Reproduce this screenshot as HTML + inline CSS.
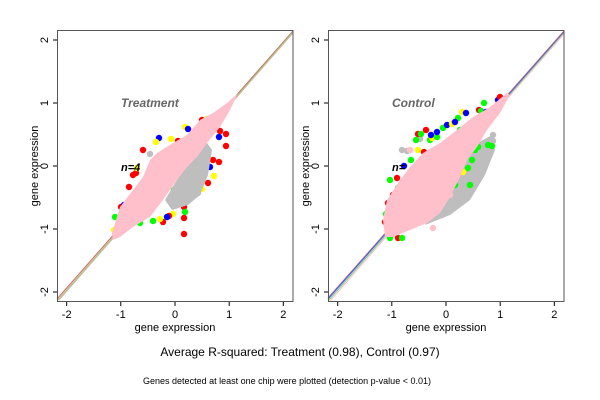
<!DOCTYPE html>
<html><head><meta charset="utf-8"><style>
html,body{margin:0;padding:0;background:#fff;}
svg{display:block;font-family:"Liberation Sans",sans-serif;}
</style></head><body>
<svg width="600" height="400" viewBox="0 0 600 400" xmlns="http://www.w3.org/2000/svg">
<rect width="600" height="400" fill="#fff"/>
<!-- LEFT PANEL -->
<g>
<line x1="57" y1="299" x2="293" y2="31" stroke="#e06060" stroke-width="1"/>
<line x1="58" y1="300" x2="293" y2="32" stroke="#7ad07a" stroke-width="1"/>
<line x1="59" y1="300" x2="293" y2="33" stroke="#d8b8a0" stroke-width="1"/>
<g>
<circle cx="159" cy="138" r="3.2" fill="#0000ff"/><circle cx="156" cy="142" r="3.2" fill="#ffff00"/><circle cx="171" cy="139" r="3.2" fill="#ffff00"/><circle cx="178" cy="141" r="3.2" fill="#ff0000"/><circle cx="176" cy="146" r="3.2" fill="#00ff00"/>
<circle cx="185" cy="127" r="3.2" fill="#ffff00"/><circle cx="188" cy="129" r="3.2" fill="#0000ff"/><circle cx="196" cy="134" r="3.2" fill="#ff0000"/><circle cx="202" cy="120" r="3.2" fill="#ff0000"/><circle cx="207" cy="119" r="3.2" fill="#ffff00"/>
<circle cx="213" cy="126" r="3.2" fill="#00ff00"/><circle cx="220" cy="131" r="3.2" fill="#ff0000"/><circle cx="219" cy="137" r="3.2" fill="#0000ff"/><circle cx="226" cy="134" r="3.2" fill="#ff0000"/><circle cx="226" cy="146" r="3.2" fill="#ff0000"/>
<circle cx="213" cy="160" r="3.2" fill="#ff0000"/><circle cx="219" cy="162" r="3.2" fill="#ff0000"/><circle cx="207" cy="157" r="3.2" fill="#00ff00"/><circle cx="214" cy="176" r="3.2" fill="#ffff00"/><circle cx="208" cy="183" r="3.2" fill="#ff0000"/>
<circle cx="202" cy="189" r="3.2" fill="#ffff00"/><circle cx="199" cy="181" r="3.2" fill="#00ff00"/><circle cx="191" cy="184" r="3.2" fill="#ff0000"/><circle cx="191" cy="188" r="3.2" fill="#ff0000"/><circle cx="185" cy="190" r="3.2" fill="#00ff00"/>
<circle cx="180" cy="199" r="3.2" fill="#ff0000"/><circle cx="175" cy="200" r="3.2" fill="#00ff00"/><circle cx="184" cy="207" r="3.2" fill="#ff0000"/><circle cx="185" cy="212" r="3.2" fill="#00ff00"/><circle cx="184" cy="218" r="3.2" fill="#ff0000"/>
<circle cx="173" cy="214" r="3.2" fill="#ffff00"/><circle cx="169" cy="216" r="3.2" fill="#ff0000"/><circle cx="163" cy="222" r="3.2" fill="#ff0000"/><circle cx="167" cy="217" r="3.2" fill="#0000ff"/><circle cx="160" cy="219" r="3.2" fill="#ffff00"/>
<circle cx="184" cy="234" r="3.2" fill="#ff0000"/><circle cx="153" cy="221" r="3.2" fill="#00ff00"/><circle cx="140" cy="223" r="3.2" fill="#00ff00"/><circle cx="133" cy="175" r="3.2" fill="#ff0000"/><circle cx="136" cy="173" r="3.2" fill="#ff0000"/>
<circle cx="129" cy="187" r="3.2" fill="#ff0000"/><circle cx="121" cy="207" r="3.2" fill="#ff0000"/><circle cx="124" cy="205" r="3.2" fill="#0000ff"/><circle cx="115" cy="217" r="3.2" fill="#00ff00"/><circle cx="143" cy="150" r="3.2" fill="#ff0000"/>
<circle cx="137" cy="168" r="3.2" fill="#ffff00"/><circle cx="150" cy="154" r="3.2" fill="#bebebe"/><circle cx="198" cy="193" r="3.2" fill="#bebebe"/><circle cx="200" cy="170" r="3.2" fill="#ff0000"/><circle cx="210" cy="167" r="3.2" fill="#0000ff"/>
<circle cx="193" cy="167" r="3.2" fill="#ff0000"/><circle cx="171" cy="182" r="3.2" fill="#ff0000"/><circle cx="174" cy="190" r="3.2" fill="#00ff00"/><circle cx="132" cy="200" r="3.2" fill="#0000ff"/><circle cx="114" cy="230" r="3.2" fill="#ffff00"/>
</g>
<polygon fill="#bebebe" points="185,150 205,140 212,150 208,175 200,195 188,205 172,210 165,200 180,175"/>
<polygon fill="#ffc0cb" points="112,233 120,207 133,190 143,177 150,160 157,153 173,143 187,135 200,120 213,113 227,103 238,93 237,95 230,110 220,127 207,143 197,157 187,167 177,180 163,200 150,217 133,227 120,237 113,240"/>
<text x="121" y="107" font-size="12" font-weight="bold" font-style="italic" fill="#666">Treatment</text>
<text x="121" y="171" font-size="11" font-weight="bold" font-style="italic" fill="#000">n=4</text>
<rect x="57.5" y="30.5" width="235.5" height="271" fill="none" stroke="#555" stroke-width="1"/>
<g stroke="#000" stroke-width="1">
<line x1="66.7" y1="302" x2="66.7" y2="306"/><line x1="120.8" y1="302" x2="120.8" y2="306"/><line x1="175" y1="302" x2="175" y2="306"/><line x1="229.2" y1="302" x2="229.2" y2="306"/><line x1="283.3" y1="302" x2="283.3" y2="306"/>
<line x1="53" y1="40" x2="57" y2="40"/><line x1="53" y1="103" x2="57" y2="103"/><line x1="53" y1="166" x2="57" y2="166"/><line x1="53" y1="229" x2="57" y2="229"/><line x1="53" y1="292" x2="57" y2="292"/>
</g>
<g font-size="11" text-anchor="middle" fill="#000">
<text x="66.7" y="318">-2</text><text x="120.8" y="318">-1</text><text x="175" y="318">0</text><text x="229.2" y="318">1</text><text x="283.3" y="318">2</text>
<text x="175" y="331">gene expression</text>
<text transform="translate(48,40) rotate(-90)">2</text><text transform="translate(48,103) rotate(-90)">1</text><text transform="translate(48,166) rotate(-90)">0</text><text transform="translate(48,229) rotate(-90)">-1</text><text transform="translate(48,292) rotate(-90)">-2</text>
<text transform="translate(38,166) rotate(-90)">gene expression</text>
</g>
</g>
<!-- RIGHT PANEL -->
<g>
<line x1="328" y1="298" x2="564" y2="31" stroke="#e06060" stroke-width="1"/>
<line x1="328" y1="299" x2="564" y2="32" stroke="#3060ff" stroke-width="1"/>
<line x1="329" y1="300" x2="564" y2="33" stroke="#7ad07a" stroke-width="1"/>
<line x1="330" y1="301" x2="564" y2="34" stroke="#ffc0cb" stroke-width="1"/>
<polygon fill="#bebebe" points="465,150 492,135 495,150 485,175 470,200 450,215 425,225 435,205 455,175"/>
<g>
<circle cx="402" cy="150" r="3.2" fill="#bebebe"/><circle cx="407" cy="151" r="3.2" fill="#bebebe"/><circle cx="410" cy="150" r="3.2" fill="#ffc0cb"/><circle cx="418" cy="150" r="3.2" fill="#ffff00"/><circle cx="424" cy="152" r="3.2" fill="#ff0000"/>
<circle cx="430" cy="140" r="3.2" fill="#00ff00"/><circle cx="432" cy="138" r="3.2" fill="#ffff00"/><circle cx="420" cy="139" r="3.2" fill="#bebebe"/><circle cx="437" cy="137" r="3.2" fill="#00ff00"/><circle cx="426" cy="130" r="3.2" fill="#ff0000"/>
<circle cx="437" cy="132" r="3.2" fill="#0000ff"/><circle cx="443" cy="128" r="3.2" fill="#00ff00"/><circle cx="447" cy="125" r="3.2" fill="#0000ff"/><circle cx="452" cy="124" r="3.2" fill="#ffff00"/><circle cx="458" cy="118" r="3.2" fill="#00ff00"/>
<circle cx="455" cy="122" r="3.2" fill="#0000ff"/><circle cx="462" cy="112" r="3.2" fill="#ffff00"/><circle cx="466" cy="113" r="3.2" fill="#0000ff"/><circle cx="460" cy="130" r="3.2" fill="#00ff00"/><circle cx="479" cy="110" r="3.2" fill="#ff0000"/>
<circle cx="481" cy="111" r="3.2" fill="#00ff00"/><circle cx="484" cy="103" r="3.2" fill="#00ff00"/><circle cx="486" cy="112" r="3.2" fill="#0000ff"/><circle cx="493" cy="135" r="3.2" fill="#bebebe"/><circle cx="498" cy="100" r="3.2" fill="#0000ff"/>
<circle cx="500" cy="97" r="3.2" fill="#ff0000"/><circle cx="418" cy="134" r="3.2" fill="#ff0000"/><circle cx="421" cy="134" r="3.2" fill="#00ff00"/><circle cx="416" cy="140" r="3.2" fill="#00ff00"/><circle cx="431" cy="135" r="3.2" fill="#0000ff"/>
<circle cx="415" cy="168" r="3.2" fill="#ff0000"/><circle cx="411" cy="160" r="3.2" fill="#00ff00"/><circle cx="404" cy="166" r="3.2" fill="#0000ff"/><circle cx="397" cy="178" r="3.2" fill="#ff0000"/><circle cx="390" cy="180" r="3.2" fill="#00ff00"/>
<circle cx="398" cy="188" r="3.2" fill="#00ff00"/><circle cx="393" cy="195" r="3.2" fill="#ff0000"/><circle cx="395" cy="200" r="3.2" fill="#00ff00"/><circle cx="388" cy="203" r="3.2" fill="#ff0000"/><circle cx="391" cy="208" r="3.2" fill="#00ff00"/>
<circle cx="386" cy="214" r="3.2" fill="#00ff00"/><circle cx="385" cy="222" r="3.2" fill="#ff0000"/><circle cx="390" cy="238" r="3.2" fill="#00ff00"/><circle cx="398" cy="238" r="3.2" fill="#ff0000"/><circle cx="402" cy="238" r="3.2" fill="#00ff00"/>
<circle cx="493" cy="141" r="3.2" fill="#bebebe"/><circle cx="492" cy="146" r="3.2" fill="#00ff00"/><circle cx="488" cy="145" r="3.2" fill="#00ff00"/><circle cx="478" cy="147" r="3.2" fill="#00ff00"/><circle cx="475" cy="150" r="3.2" fill="#00ff00"/>
<circle cx="472" cy="160" r="3.2" fill="#00ff00"/><circle cx="466" cy="153" r="3.2" fill="#ffff00"/><circle cx="468" cy="168" r="3.2" fill="#00ff00"/><circle cx="470" cy="185" r="3.2" fill="#00ff00"/><circle cx="455" cy="185" r="3.2" fill="#00ff00"/>
<circle cx="450" cy="195" r="3.2" fill="#ffc0cb"/><circle cx="460" cy="200" r="3.2" fill="#bebebe"/><circle cx="442" cy="215" r="3.2" fill="#bebebe"/><circle cx="433" cy="228" r="3.2" fill="#ffc0cb"/><circle cx="420" cy="222" r="3.2" fill="#ffc0cb"/>
<circle cx="444" cy="200" r="3.2" fill="#00ff00"/><circle cx="463" cy="172" r="3.2" fill="#ffff00"/><circle cx="483" cy="124" r="3.2" fill="#0000ff"/>
</g>
<polygon fill="#ffc0cb" points="383,220 387,200 400,180 410,167 423,153 440,143 457,130 473,117 490,107 507,93 510,95 500,113 487,130 477,147 467,160 460,177 450,197 440,213 427,223 410,230 393,237 385,237"/>
<text x="392" y="107" font-size="12" font-weight="bold" font-style="italic" fill="#666">Control</text>
<text x="392" y="171" font-size="11" font-weight="bold" font-style="italic" fill="#000">n=</text>
<rect x="328.5" y="30.5" width="235.5" height="271" fill="none" stroke="#555" stroke-width="1"/>
<g stroke="#000" stroke-width="1">
<line x1="337.7" y1="302" x2="337.7" y2="306"/><line x1="391.8" y1="302" x2="391.8" y2="306"/><line x1="446" y1="302" x2="446" y2="306"/><line x1="500.2" y1="302" x2="500.2" y2="306"/><line x1="554.3" y1="302" x2="554.3" y2="306"/>
<line x1="324" y1="40" x2="328" y2="40"/><line x1="324" y1="103" x2="328" y2="103"/><line x1="324" y1="166" x2="328" y2="166"/><line x1="324" y1="229" x2="328" y2="229"/><line x1="324" y1="292" x2="328" y2="292"/>
</g>
<g font-size="11" text-anchor="middle" fill="#000">
<text x="337.7" y="318">-2</text><text x="391.8" y="318">-1</text><text x="446" y="318">0</text><text x="500.2" y="318">1</text><text x="554.3" y="318">2</text>
<text x="446" y="331">gene expression</text>
<text transform="translate(319,40) rotate(-90)">2</text><text transform="translate(319,103) rotate(-90)">1</text><text transform="translate(319,166) rotate(-90)">0</text><text transform="translate(319,229) rotate(-90)">-1</text><text transform="translate(319,292) rotate(-90)">-2</text>
<text transform="translate(309,166) rotate(-90)">gene expression</text>
</g>
</g>
<text x="300" y="356" font-size="12" text-anchor="middle" fill="#000">Average R-squared: Treatment (0.98), Control (0.97)</text>
<text x="287" y="384" font-size="9" text-anchor="middle" fill="#000">Genes detected at least one chip were plotted (detection p-value &lt; 0.01)</text>
</svg>
</body></html>
